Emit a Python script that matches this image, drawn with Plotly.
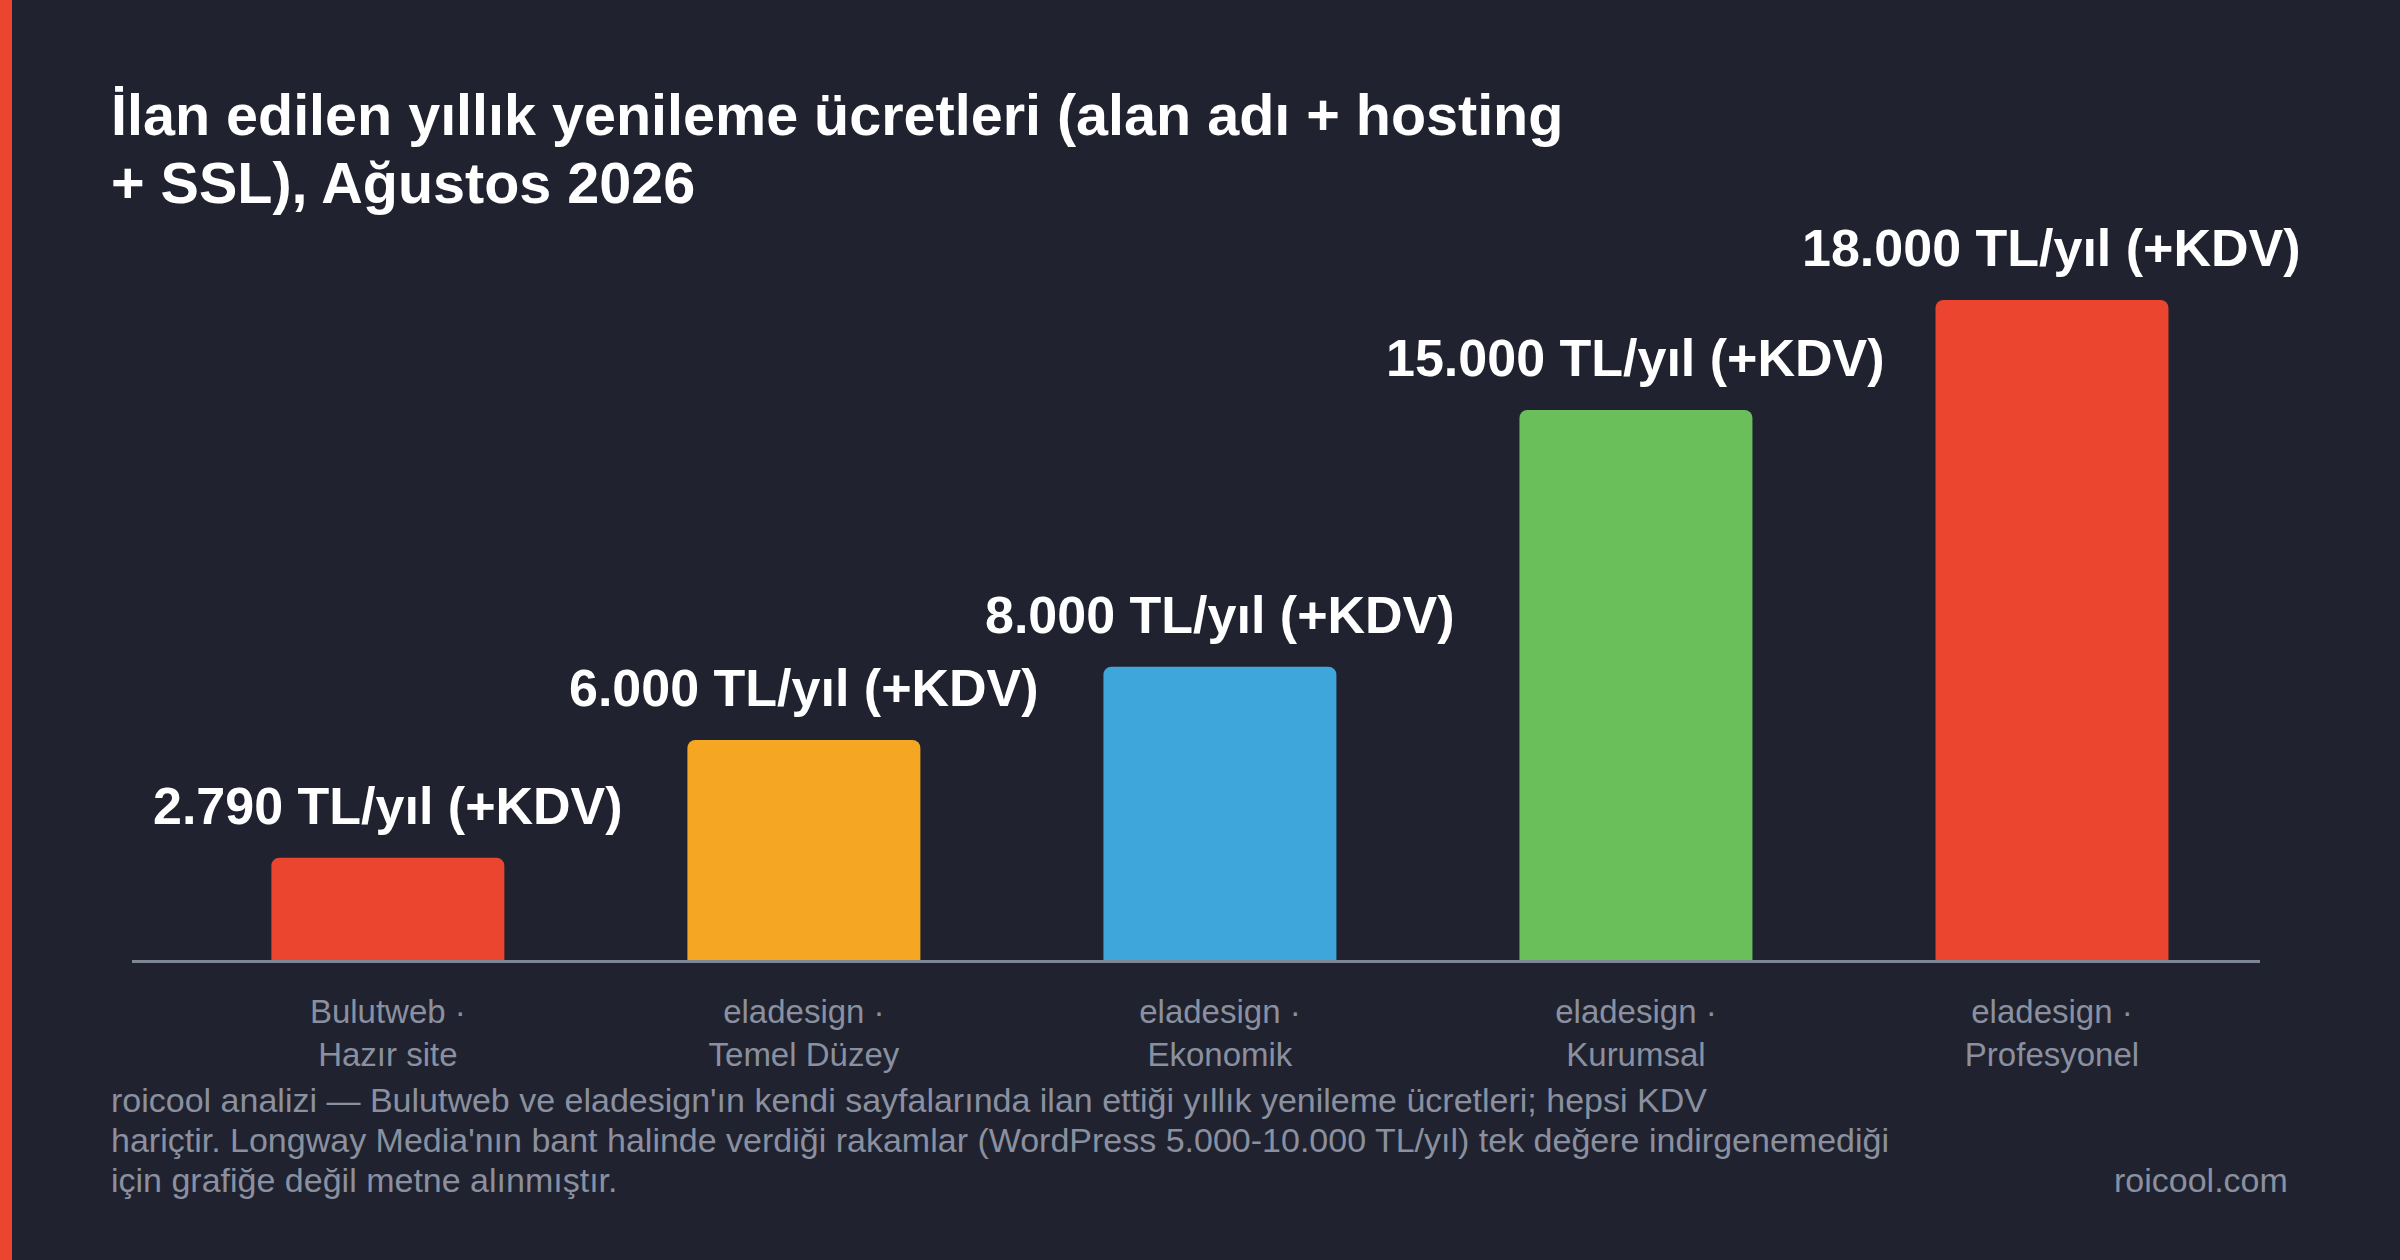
import plotly.graph_objects as go

# ilan edilen yillik yenileme ucretleri (TL, KDV haric)
categories = ["Bulutweb ·<br>Hazır site", "eladesign ·<br>Temel Düzey", "eladesign ·<br>Ekonomik",
              "eladesign ·<br>Kurumsal", "eladesign ·<br>Profesyonel"]
prices = [2790, 6000, 8000, 15000, 18000]
price_labels = ["2.790 TL/yıl (+KDV)", "6.000 TL/yıl (+KDV)", "8.000 TL/yıl (+KDV)",
                "15.000 TL/yıl (+KDV)", "18.000 TL/yıl (+KDV)"]
bar_colors = ["#ec452f", "#f5a623", "#3ea6da", "#6abf5b", "#ec452f"]

title_lines = ["İlan edilen yıllık yenileme ücretleri (alan adı + hosting",
               "+ SSL), Ağustos 2026"]
note_lines = ["roicool analizi — Bulutweb ve eladesign'ın kendi sayfalarında ilan ettiği yıllık yenileme ücretleri; hepsi KDV",
              "hariçtir. Longway Media'nın bant halinde verdiği rakamlar (WordPress 5.000-10.000 TL/yıl) tek değere indirgenemediği",
              "için grafiğe değil metne alınmıştır."]
source_text = "roicool.com"

BG = "#20232f"
GREY = "#8a90a0"
FONT = "Helvetica, Arial, Liberation Sans, sans-serif"

W, H = 2400, 1260
L, R, T, B = 132, 140, 200, 300
ph = H - T - B


def px_y(y):
    # pixel row -> paper y
    return (H - B - y) / ph


def px_x(x):
    return (x - L) / (W - L - R)


fig = go.Figure()
fig.add_trace(go.Bar(x=categories, y=prices, marker=dict(color=bar_colors, cornerradius=8, line_width=0),
                     width=0.56, hoverinfo="skip"))

for c, v, t in zip(categories, prices, price_labels):
    fig.add_annotation(x=c, y=v, text="<b>" + t + "</b>", showarrow=False, yanchor="bottom",
                       yshift=21, font=dict(size=52, color="white", family=FONT))

# title, one annotation per line (baselines ~135 and ~203 px)
for i, line in enumerate(title_lines):
    fig.add_annotation(xref="paper", yref="paper", x=px_x(109), y=px_y(115 + 68 * i),
                       xanchor="left", yanchor="middle", text="<b>" + line + "</b>", showarrow=False,
                       font=dict(size=57.5, color="white", family=FONT))

for i, line in enumerate(note_lines):
    fig.add_annotation(xref="paper", yref="paper", x=px_x(109), y=px_y(1100 + 40 * i),
                       xanchor="left", yanchor="middle", text=line, showarrow=False,
                       font=dict(size=34, color=GREY, family=FONT))
fig.add_annotation(xref="paper", yref="paper", x=px_x(2290), y=px_y(1180),
                   xanchor="right", yanchor="middle", text=source_text, showarrow=False,
                   font=dict(size=34, color=GREY, family=FONT))

# red stripe on the left edge
fig.add_shape(type="rect", xref="paper", yref="paper", xsizemode="pixel", ysizemode="pixel",
              xanchor=0, yanchor=0, x0=-L, x1=-L + 12, y0=-B, y1=ph + T,
              fillcolor="#ec452f", line_width=0, layer="above")

fig.update_layout(
    width=W, height=H, margin=dict(l=L, r=R, t=T, b=B),
    paper_bgcolor=BG, plot_bgcolor=BG, showlegend=False,
    font=dict(family=FONT, color=GREY),
)
fig.update_xaxes(range=[-0.615, 4.5], showline=True, linecolor="#7f8696", linewidth=3,
                 showgrid=False, ticks="", tickfont=dict(size=33, color=GREY), ticklabelstandoff=20)
fig.update_yaxes(range=[0, 20727], visible=False, showgrid=False, zeroline=False)

fig.write_html("out.html", config={"displayModeBar": False},
               post_script="document.body.style.margin='0';")
